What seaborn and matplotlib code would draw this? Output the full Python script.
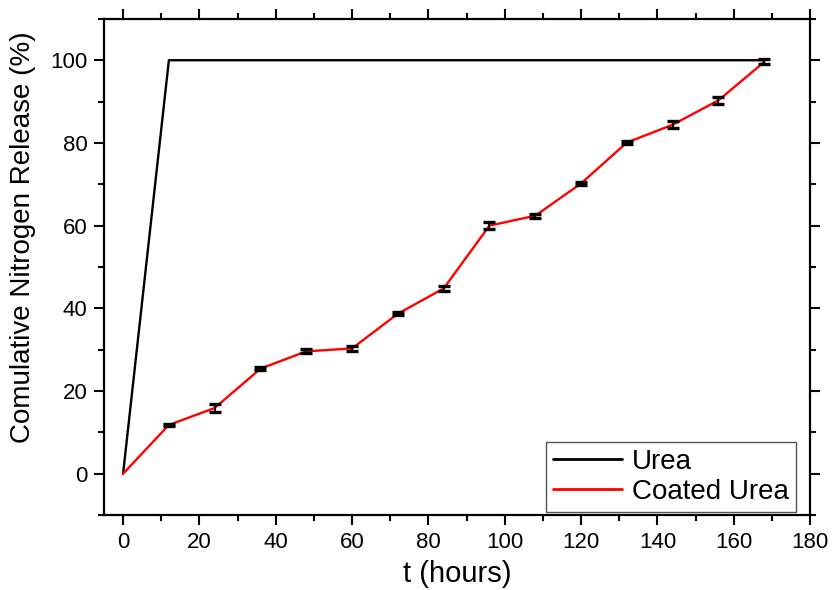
import matplotlib
matplotlib.use("Agg")
import matplotlib.pyplot as plt
import seaborn as sns
import pandas as pd
from matplotlib.ticker import MultipleLocator

# Urea (uncoated) release
urea_t = [0, 12, 168]
urea_release = [0, 100, 100]

# Coated urea release with error bars
coated_t = [0, 12, 24, 36, 48, 60, 72, 84, 96, 108, 120, 132, 144, 156, 168]
coated_release = [0, 11.8, 15.9, 25.4, 29.6, 30.3, 38.7, 44.8, 60.0, 62.4,
                  70.2, 80.1, 84.4, 90.3, 99.6]
coated_err = [0, 0.3, 1.0, 0.3, 0.5, 0.6, 0.3, 0.6, 0.9, 0.5,
              0.3, 0.3, 0.8, 0.8, 0.6]

df_urea = pd.DataFrame({"t": urea_t, "release": urea_release, "Sample": "Urea"})
df_coated = pd.DataFrame({"t": coated_t, "release": coated_release, "Sample": "Coated Urea"})
df = pd.concat([df_urea, df_coated], ignore_index=True)

sns.set_theme(style="ticks")
plt.rcParams["font.family"] = ["Liberation Sans", "DejaVu Sans"]
plt.rcParams["text.color"] = "black"
plt.rcParams["axes.labelcolor"] = "black"

fig, ax = plt.subplots(figsize=(8.32, 5.9), dpi=100)
fig.subplots_adjust(left=0.125, right=0.9736, top=0.968, bottom=0.127)

sns.lineplot(data=df, x="t", y="release", hue="Sample",
             palette={"Urea": "black", "Coated Urea": "red"},
             linewidth=1.7, ax=ax, sort=False, estimator=None)

# error bars for the coated urea (skip the origin point)
ax.errorbar(coated_t[1:], coated_release[1:], yerr=coated_err[1:], fmt="none",
            ecolor="black", elinewidth=1.5, capsize=4.5, capthick=2.4, zorder=3)

ax.set_xlim(-5, 180)
ax.set_ylim(-10, 110)
ax.xaxis.set_major_locator(MultipleLocator(20))
ax.xaxis.set_minor_locator(MultipleLocator(10))
ax.yaxis.set_minor_locator(MultipleLocator(10))
ax.set_yticks([0, 20, 40, 60, 80, 100])

for s in ax.spines.values():
    s.set_visible(True)
    s.set_linewidth(1.6)
    s.set_color("black")

ax.tick_params(which="both", direction="out", top=True, right=True,
               width=1.5, colors="black", labelsize=16)
ax.tick_params(which="major", length=7, pad=5)
ax.tick_params(which="minor", length=4)

ax.set_xlabel("t (hours)", fontsize=21, labelpad=5)
ax.set_ylabel("Comulative Nitrogen Release (%)", fontsize=20)
ax.yaxis.set_label_coords(-0.096, 0.56)

leg = ax.legend(loc="lower right", bbox_to_anchor=(0.98, 0.006), fontsize=20,
                frameon=True, fancybox=False, edgecolor="#555555", framealpha=1,
                handlelength=2.5, handletextpad=0.35, borderpad=0.25,
                labelspacing=0.15, borderaxespad=0)
leg.get_frame().set_linewidth(1.0)
for line in leg.get_lines():
    line.set_linewidth(2)
for txt in leg.get_texts():
    txt.set_color("black")

plt.savefig("out.png", dpi=100)
